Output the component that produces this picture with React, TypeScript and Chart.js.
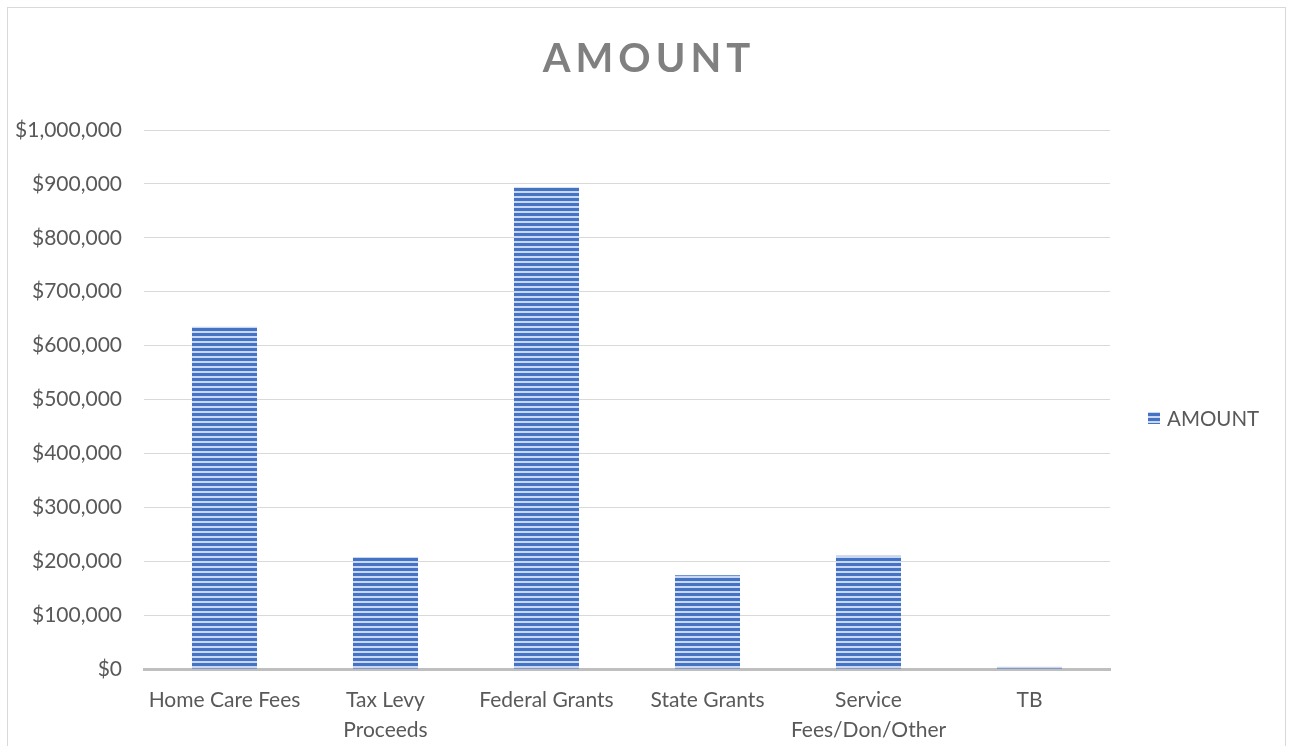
import React, { useEffect, useRef } from "react";
import { Chart, registerables } from "chart.js";

Chart.register(...registerables);

const TITLE = "AMOUNT";
const SERIES_LABEL = "AMOUNT";
const categories: string[][] = [
  ["Home Care Fees"],
  ["Tax Levy", "Proceeds"],
  ["Federal Grants"],
  ["State Grants"],
  ["Service", "Fees/Don/Other"],
  ["TB"],
];
const amounts: number[] = [635000, 208000, 894000, 174000, 210000, 4000];
const Y_MIN = 0;
const Y_MAX = 1000000;
const Y_STEP = 100000;

const FONT = "Lato, 'Open Sans', sans-serif";
const TEXT_COLOR = "#595959";
const DARK = "#4472c4";
const LIGHT = "#c9d7f0";

function makePattern(): CanvasPattern | string {
  const c = document.createElement("canvas");
  c.width = 8;
  c.height = 10;
  const ctx = c.getContext("2d");
  if (!ctx) return DARK;
  ctx.fillStyle = LIGHT;
  ctx.fillRect(0, 0, 8, 10);
  ctx.fillStyle = DARK;
  ctx.fillRect(0, 0, 8, 3);
  ctx.fillRect(0, 5, 8, 3);
  const p = ctx.createPattern(c, "repeat");
  return p || DARK;
}

const fmt = (v: number) => "$" + Math.round(v).toLocaleString("en-US");

export default function App() {
  const ref = useRef<HTMLCanvasElement | null>(null);

  useEffect(() => {
    if (!ref.current) return;
    const pattern = makePattern();

    const titlePlugin = {
      id: "customTitle",
      afterDraw(chart: any) {
        const ctx = chart.ctx as CanvasRenderingContext2D;
        ctx.save();
        ctx.font = `bold 40px ${FONT}`;
        ctx.fillStyle = "#808080";
        ctx.textAlign = "center";
        ctx.textBaseline = "alphabetic";
        (ctx as any).letterSpacing = "5px";
        ctx.fillText(TITLE, chart.width / 2 + 2.5, 64);
        ctx.restore();
      },
    };

    const legendPlugin = {
      id: "customLegend",
      afterDraw(chart: any) {
        const ctx = chart.ctx as CanvasRenderingContext2D;
        const x = chart.chartArea.right + 38;
        const y = 410;
        ctx.save();
        ctx.fillStyle = pattern as any;
        ctx.fillRect(x, y - 6, 12, 12);
        ctx.font = `20.5px ${FONT}`;
        ctx.fillStyle = TEXT_COLOR;
        ctx.textAlign = "left";
        ctx.textBaseline = "middle";
        ctx.fillText(SERIES_LABEL, x + 19, y + 1);
        ctx.restore();
      },
    };

    const chart = new Chart(ref.current, {
      type: "bar",
      data: {
        labels: categories,
        datasets: [
          {
            label: SERIES_LABEL,
            data: amounts,
            backgroundColor: pattern as any,
            borderWidth: 0,
            barPercentage: 0.404,
            categoryPercentage: 1,
          },
        ],
      },
      options: {
        animation: false,
        responsive: true,
        maintainAspectRatio: false,
        layout: { padding: { top: 122, right: 175, bottom: 0, left: 0 } },
        plugins: {
          legend: { display: false },
          title: { display: false },
          tooltip: { enabled: false },
        },
        scales: {
          x: {
            grid: { display: false, drawTicks: false },
            border: { display: true, color: "#bfbfbf", width: 3 },
            ticks: {
              color: TEXT_COLOR,
              font: { family: FONT, size: 21, lineHeight: 1.43 },
              padding: 16,
              maxRotation: 0,
              autoSkip: false,
            },
            afterFit(scale: any) {
              scale.height = 77;
            },
          },
          y: {
            min: Y_MIN,
            max: Y_MAX,
            grid: { color: "#d9d9d9", lineWidth: 1, drawTicks: false },
            border: { display: false },
            ticks: {
              stepSize: Y_STEP,
              color: TEXT_COLOR,
              font: { family: FONT, size: 21 },
              padding: 22,
              callback: (v: any) => fmt(Number(v)),
            },
            afterFit(scale: any) {
              scale.width = 136;
            },
          },
        },
      },
      plugins: [titlePlugin, legendPlugin],
    });
    return () => chart.destroy();
  }, []);

  return (
    <div
      style={{
        position: "fixed",
        left: 7,
        top: 7,
        width: 1279,
        height: 739,
        border: "1px solid #d9d9d9",
        borderBottom: "none",
        boxSizing: "border-box",
        background: "#fff",
      }}
    >
      <div style={{ position: "relative", width: 1277, height: 738 }}>
        <canvas ref={ref} />
      </div>
    </div>
  );
}
